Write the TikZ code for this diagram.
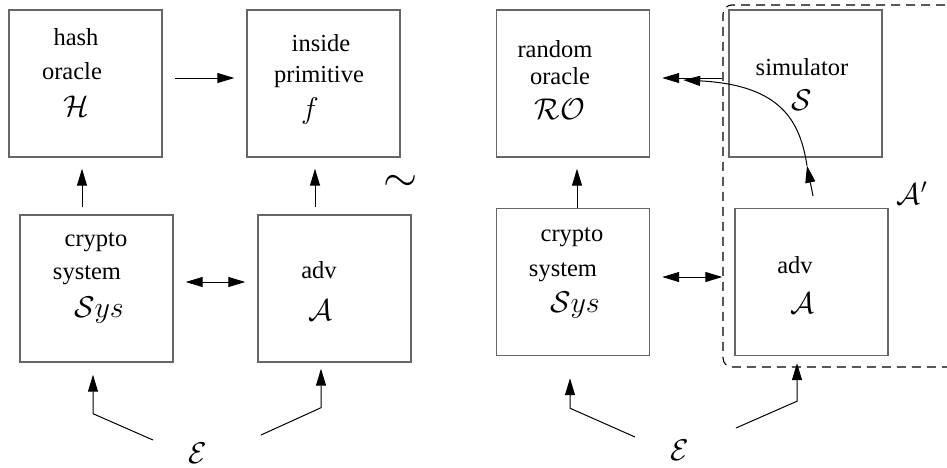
\RequirePackage{fix-cm}
\documentclass[tikz,border=0pt]{standalone}
\usepackage{fontspec}
\setmainfont{Liberation Serif}
\usetikzlibrary{arrows.meta,calc}
\begin{document}
\begin{tikzpicture}[x=1pt,y=-1pt,
  box/.style={draw=black!60, line width=1.4pt, minimum width=153pt, minimum height=147pt, inner sep=0pt},
  lbl/.style={inner sep=0pt, font=\fontsize{24.5}{28}\selectfont},
  mth/.style={inner sep=0pt, font=\fontsize{30}{34}\selectfont},
  arr/.style={-{Triangle[length=17pt,width=10pt]}, line width=1pt},
  darr/.style={{Triangle[length=17pt,width=10pt]}-{Triangle[length=17pt,width=10pt]}, line width=1pt},
  frame/.style={dash pattern=on 9pt off 6pt, line width=1.1pt, rounded corners=9pt}]
\useasboundingbox (0,0) rectangle (947,467);
\clip (0,0) rectangle (947,467);

% boxes
\node[box] (hash) at (85.5,83.5) {};
\node[box] (prim) at (323.5,83.5) {};
\node[box] (sys1) at (96.5,288.5) {};
\node[box] (adv1) at (334.5,288.5) {};
\node[box] (ro) at (573,83.5) {};
\node[box] (sim) at (805.5,83.5) {};
\node[box] (sys2) at (573,282) {};
\node[box] (adv2) at (811.5,282) {};

% labels left
\node[lbl] (t1) at (76,37) {hash};
\node[lbl] (t2) at (72,71) {oracle};
\node[mth] (t3) at (76,106) {$\mathcal{H}$};
\node[lbl] (t4) at (321,43) {inside};
\node[lbl] (t5) at (319,77) {primitive};
\node[mth] (t6) at (310,111) {$f$};
\node[lbl] (t7) at (96,242) {crypto};
\node[lbl] (t8) at (87,275) {system};
\node[mth] (t9) at (99,310) {$\mathcal{S}ys$};
\node[lbl] (t10) at (319,270) {adv};
\node[mth] (t11) at (320,310) {$\mathcal{A}$};
\node[mth] (E1) at (198,453) {$\mathcal{E}$};
\node[inner sep=0pt, font=\fontsize{44}{48}\selectfont] (tilde) at (401,183) {$\sim$};

% labels right
\node[lbl] (u1) at (555,49) {random};
\node[lbl] (u2) at (560,76) {oracle};
\node[mth] (u3) at (560,109) {$\mathcal{RO}$};
\node[lbl] (u4) at (802,67) {simulator};
\node[mth] (u5) at (802,100) {$\mathcal{S}$};
\node[lbl] (u6) at (572,237) {crypto};
\node[lbl] (u7) at (563,272) {system};
\node[mth] (u8) at (575,305) {$\mathcal{S}ys$};
\node[lbl] (u9) at (795,265) {adv};
\node[mth] (u10) at (802,303) {$\mathcal{A}$};
\node[mth] (E2) at (680,450) {$\mathcal{E}$};
\node[mth] (Ap) at (912,193) {$\mathcal{A}'$};

% dashed frame of A'
\draw[frame] (960,5) -- (723,5) -- (723,367) -- (960,367);

% connectors left
\draw[arr] ($(hash.east)+(12,-5.5)$) -- ($(prim.west)+(-12,-5.5)$);
\draw[arr] ($(sys1.north)+(-14.5,-7)$) -- ($(hash.south)+(-3.5,11)$);
\draw[arr] ($(adv1.north)+(-19.5,-7)$) -- ($(prim.south)+(-8.5,11)$);
\draw[darr] ($(sys1.east)+(12,-6.5)$) -- ($(adv1.west)+(-12,-6.5)$);
\coordinate (e1a) at ($(E1)+(-45,-13)$);
\coordinate (e1b) at ($(E1)+(63,-18)$);
\draw[arr] (e1a) -- ($(sys1.south)+(-3.5,51)$) -- ($(sys1.south)+(-3.5,12)$);
\draw[arr] (e1b) -- ($(adv1.south)+(-13.5,45)$) -- ($(adv1.south)+(-13.5,6)$);

% connectors right
\draw[arr] ($(sys2.north)+(4,0)$) -- ($(ro.south)+(4,11)$);
\draw[darr] ($(sys2.east)+(12,-5)$) -- ($(adv2.west)+(-12,-5)$);
\draw[arr] ($(sim.west)+(-6,-5.5)$) -- ($(ro.east)+(12,-5.5)$);
\coordinate (cm) at ($(sim.south)+(1.5,8)$);
\draw[arr] ($(adv2.north)+(1.5,-12)$) -- (cm);
\draw[arr] (cm) .. controls (800,120) and (780,85) .. ($(ro.east)+(33,-3.5)$);
\coordinate (e2a) at ($(E2)+(-45,-13)$);
\coordinate (e2b) at ($(E2)+(56,-22)$);
\draw[arr] (e2a) -- ($(sys2.south)+(-3,52)$) -- ($(sys2.south)+(-3,22)$);
\draw[arr] (e2b) -- ($(adv2.south)+(-14.5,45)$) -- ($(adv2.south)+(-14.5,7)$);
\end{tikzpicture}
\end{document}
